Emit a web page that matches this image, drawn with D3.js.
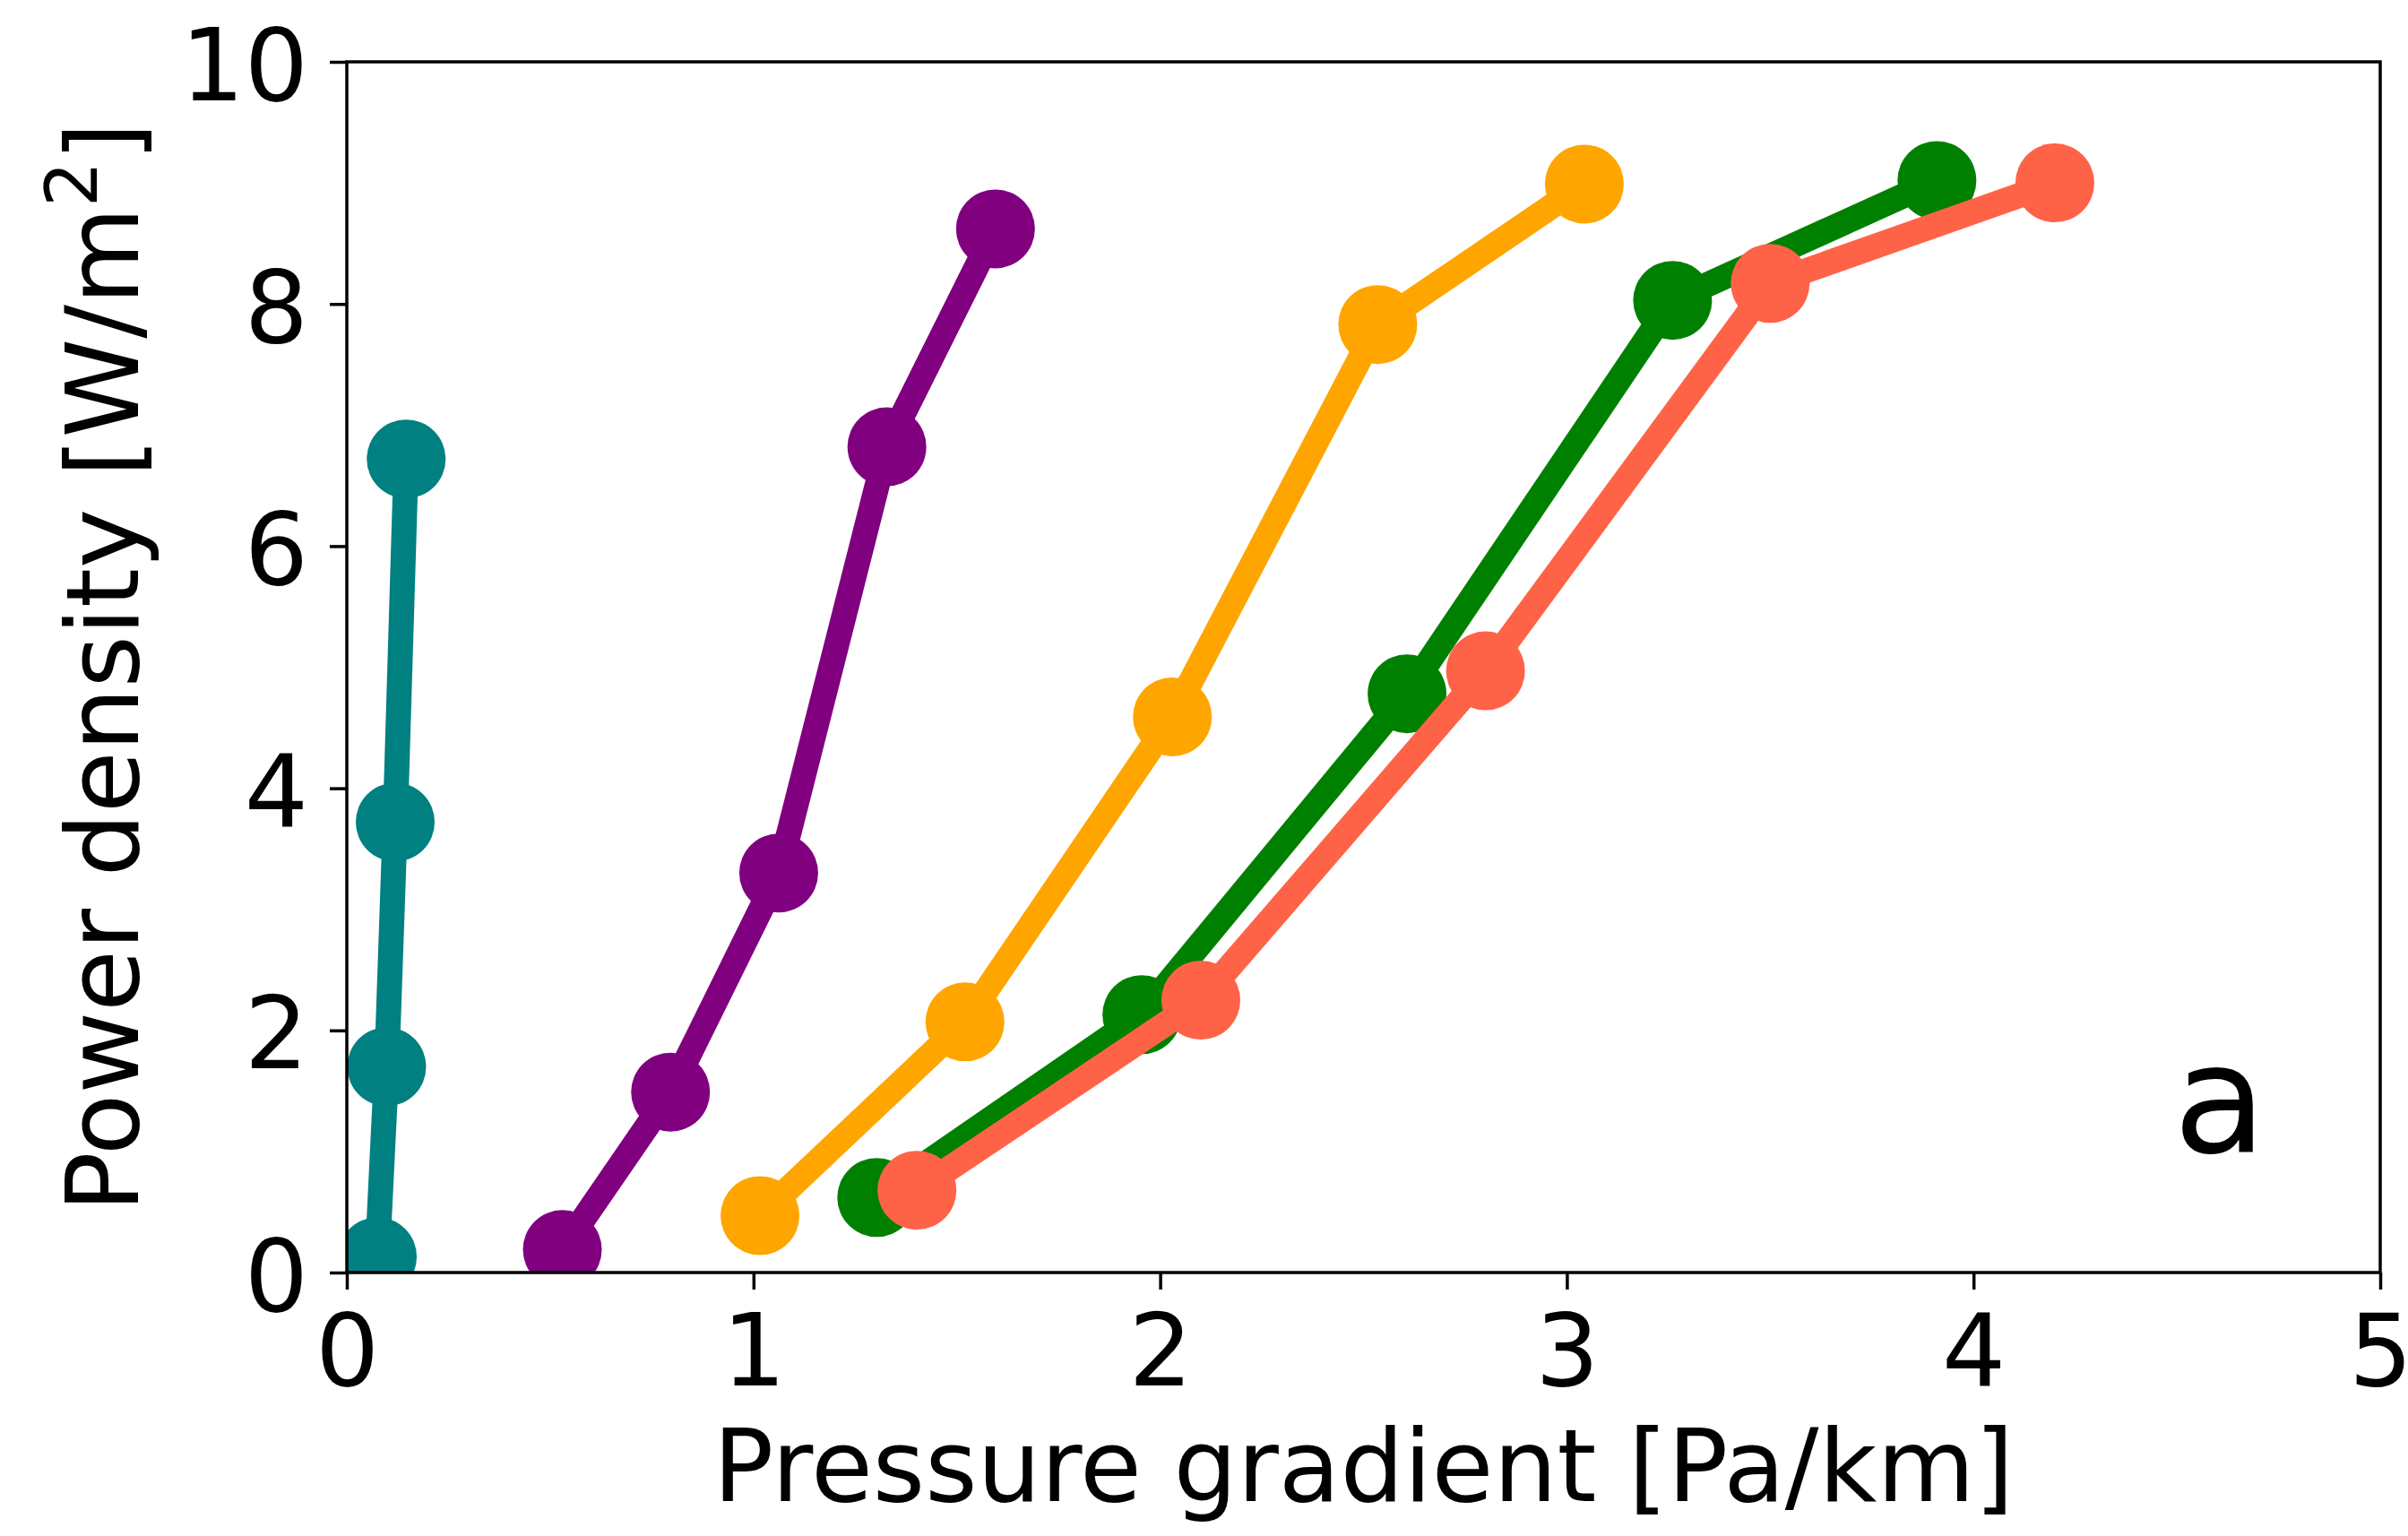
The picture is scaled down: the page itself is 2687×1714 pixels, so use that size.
<!DOCTYPE html>
<html>
<head>
<meta charset="utf-8">
<script src="https://cdn.jsdelivr.net/npm/d3@7"></script>
<style>
  html, body { margin: 0; padding: 0; background: #fff; }
  svg text { font-family: "DejaVu Sans", sans-serif; fill: #000; }
</style>
</head>
<body>
<svg id="chart" width="2687" height="1714"></svg>
<script>
// Pressure gradient [Pa/km] (x) and power density [W/m2] (y) per series
const tealX = [0.075, 0.098, 0.119, 0.146];
const tealY = [0.13, 1.70, 3.72, 6.72];
const purpleX = [0.53, 0.796, 1.062, 1.328, 1.595];
const purpleY = [0.19, 1.49, 3.30, 6.82, 8.62];
const orangeX = [1.016, 1.52, 2.03, 2.535, 3.043];
const orangeY = [0.47, 2.07, 4.59, 7.83, 8.99];
const greenX = [1.303, 1.955, 2.607, 3.26, 3.91];
const greenY = [0.62, 2.13, 4.78, 8.03, 9.02];
const coralX = [1.402, 2.10, 2.80, 3.50, 4.20];
const coralY = [0.68, 2.25, 4.97, 8.17, 9.00];

const xTicks = [0, 1, 2, 3, 4, 5];
const yTicks = [0, 2, 4, 6, 8, 10];

const series = [
    { x: tealX, y: tealY, color: '#008080' },
    { x: purpleX, y: purpleY, color: '#800080' },
    { x: orangeX, y: orangeY, color: '#FFA500' },
    { x: greenX, y: greenY, color: '#008000' },
    { x: coralX, y: coralY, color: '#FF6347' }
];

const svg = d3.select('#chart');
const margin = { top: 69, right: 31, bottom: 294, left: 387 };
const width = 2687 - margin.left - margin.right;
const height = 1714 - margin.top - margin.bottom;

const xScale = d3.scaleLinear().domain([0, 5]).range([0, width]);
const yScale = d3.scaleLinear().domain([0, 10]).range([height, 0]);

svg.append('rect').attr('width', 2687).attr('height', 1714).attr('fill', '#fff');

const g = svg.append('g').attr('transform', `translate(${margin.left},${margin.top})`);

g.append('clipPath').attr('id', 'plot-clip')
    .append('rect').attr('width', width).attr('height', height);

const plot = g.append('g').attr('clip-path', 'url(#plot-clip)');

const line = d3.line()
    .x(d => xScale(d[0]))
    .y(d => yScale(d[1]));

series.forEach(s => {
    const pts = s.x.map((v, i) => [v, s.y[i]]);
    plot.append('path')
        .datum(pts)
        .attr('fill', 'none')
        .attr('stroke', s.color)
        .attr('stroke-width', 28)
        .attr('stroke-linejoin', 'round')
        .attr('stroke-linecap', 'butt')
        .attr('d', line);
    plot.selectAll(null)
        .data(pts)
        .enter()
        .append('circle')
        .attr('cx', d => xScale(d[0]))
        .attr('cy', d => yScale(d[1]))
        .attr('r', 44)
        .attr('fill', s.color);
});

// axes
const xAxis = g.append('g')
    .attr('transform', `translate(0,${height})`)
    .call(d3.axisBottom(xScale).tickValues(xTicks).tickFormat(d3.format('d')).tickSize(19).tickPadding(24));
const yAxis = g.append('g')
    .call(d3.axisLeft(yScale).tickValues(yTicks).tickFormat(d3.format('d')).tickSize(19).tickPadding(24));

[xAxis, yAxis].forEach(a => {
    a.select('.domain').remove();
    a.selectAll('line').attr('stroke', '#000').attr('stroke-width', 3.5);
    a.selectAll('text').attr('font-size', 112).attr('font-family', '"DejaVu Sans", sans-serif');
});
xAxis.selectAll('text').attr('dy', null).attr('y', 0).attr('transform', 'translate(0,126)');
yAxis.selectAll('text').attr('dy', null).attr('transform', 'translate(0,42)');

// frame
g.append('rect')
    .attr('width', width).attr('height', height)
    .attr('fill', 'none').attr('stroke', '#000').attr('stroke-width', 3.5);

// axis labels
svg.append('text')
    .attr('x', margin.left + width / 2)
    .attr('y', 1675)
    .attr('text-anchor', 'middle')
    .attr('font-size', 112)
    .text('Pressure gradient [Pa/km]');

const yl = svg.append('text')
    .attr('transform', `translate(154,${margin.top + height / 2}) rotate(-90)`)
    .attr('text-anchor', 'middle')
    .attr('font-size', 112);
yl.append('tspan').text('Power density [W/m');
yl.append('tspan').attr('font-size', 80).attr('dy', -46).text('2');
yl.append('tspan').attr('dy', 46).text(']');

// panel letter
svg.append('text')
    .attr('x', 2477)
    .attr('y', 1286)
    .attr('text-anchor', 'middle')
    .attr('font-size', 170)
    .text('a');
</script>
</body>
</html>
